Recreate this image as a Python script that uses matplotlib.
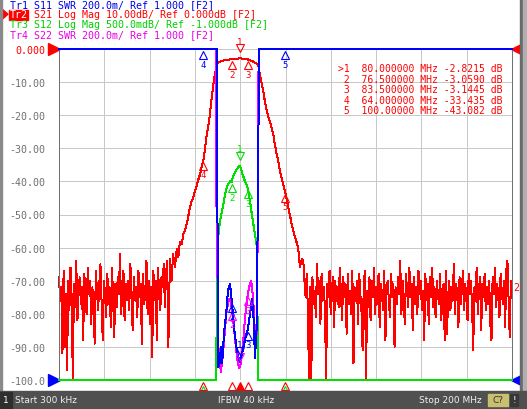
import numpy as np
import matplotlib
matplotlib.use("Agg")
import matplotlib.pyplot as plt
from matplotlib import transforms
from matplotlib.patches import Rectangle, Polygon

W, H = 527, 410
MONO = "DejaVu Sans Mono"

# sweep 300 kHz .. 200 MHz
f_start, f_stop = 0.3, 200.0

# Tr2 S21 (dB) - noise floor below the passband, evenly spaced sweep points
s21_low = [-69, -76, -72, -92, -67, -90, -74, -97, -70, -79,
           -66, -75, -100, -71, -78, -64, -82, -73, -69, -77,
           -72, -88, -68, -75, -80, -66, -74, -70, -83, -72,
           -78, -89, -67, -73, -79, -71, -65, -76, -88, -70,
           -74, -81, -68, -77, -72, -84, -66, -75, -87, -71,
           -78, -69, -74, -62, -80, -73, -67, -82, -71, -76,
           -70, -79, -65, -74, -85, -69, -76, -72, -81, -67,
           -75, -71, -89, -68, -77, -73, -64, -80, -70, -83,
           -72, -93, -67, -76, -70, -88, -66, -74, -79, -69,
           -72, -65, -78, -68, -64, -90]
# skirts and passband
s21_mid_f = [49.2, 49.9, 50.6, 51.4, 52.2, 52.9, 53.6, 54.4, 55.1, 55.8,
             56.6, 57.3, 58.0, 58.8, 59.5, 60.2, 61.0, 61.7, 62.5, 63.2,
             64.0, 64.6, 65.1, 65.8, 66.6, 67.3, 68.1, 68.9, 69.8, 70.5,
             71.2, 72.4, 73.5, 75.0, 76.5, 78.6, 80.0, 81.5, 83.5, 85.0,
             85.9, 87.0, 88.2, 88.9, 89.7, 90.4, 91.1, 91.9, 92.6, 93.3,
             94.1, 94.8, 95.5, 96.2, 97.0, 97.7, 98.5, 99.2, 100.0, 100.7,
             101.4, 102.2, 102.9, 103.6, 104.4, 105.1, 105.8, 106.5, 107.3]
s21_mid_db = [-63.5, -70, -62, -66, -60.5, -63, -58.3, -59, -55.9, -55,
              -52.9, -50.5, -47.8, -46, -44.7, -43, -41.4, -39.5, -37.8, -35.5,
              -33.435, -30.5, -27.5, -24.5, -21, -16.5, -12, -8, -5, -4.0,
              -3.8, -3.55, -3.4, -3.2, -3.059, -2.9, -2.8215, -2.9, -3.1445, -3.5,
              -3.8, -4.2, -5.0, -8, -10.5, -13, -16, -18.7, -20.5, -22,
              -24, -26, -29, -31.5, -34, -37, -39, -41, -43.082, -45.5,
              -48, -50.5, -53, -55, -57, -58.5, -60.5, -66, -63.5]
# noise floor above the passband
s21_high = [-64, -70, -75, -68, -79, -100, -72, -100, -69, -77,
            -73, -81, -65, -74, -70, -83, -68, -76, -72, -79,
            -100, -71, -75, -67, -80, -73, -69, -84, -70, -76,
            -72, -78, -66, -74, -82, -69, -75, -71, -86, -68,
            -77, -73, -80, -67, -95, -72, -76, -70, -83, -68,
            -74, -79, -91, -71, -67, -100, -73, -78, -69, -82,
            -70, -75, -66, -80, -72, -77, -68, -84, -71, -74,
            -79, -67, -88, -73, -70, -76, -81, -68, -75, -71,
            -90, -72, -77, -69, -74, -64, -80, -70, -76, -83,
            -68, -73, -78, -66, -75, -71, -85, -69, -77, -72,
            -80, -67, -74, -70, -79, -73, -88, -68, -76, -71,
            -83, -69, -75, -66, -78, -72, -81, -70, -74, -77,
            -68, -82, -73, -71, -88, -67, -86, -75, -70, -79,
            -72, -76, -65, -80, -71, -74, -84, -69, -77, -73,
            -67, -79, -71, -75, -82, -68, -74, -70, -78, -91,
            -72, -76, -66, -80, -73, -69, -85, -71, -75, -68,
            -79, -72, -77, -70, -83, -88, -69, -74, -66, -78,
            -71, -75, -81, -68, -73, -77, -70, -84, -67, -64,
            -76, -87, -70, -72]

# Tr3 S12 (dB), 500 mdB/div, ref -1 dB at top
s12_f = [0.3, 69.6, 70.0, 70.6, 71.2, 71.7, 72.6, 73.5, 74.4, 75.7,
         76.5, 77.0, 78.3, 79.0, 79.6, 80.0, 80.5, 81.0, 82.3, 83.0,
         83.6, 84.5, 85.4, 86.7, 87.6, 88.0, 200.0]
s12_db = [-70, -9, -4.05, -3.8, -3.62, -3.52, -3.37, -3.2, -3.07, -3.0,
          -3.01, -2.92, -2.84, -2.8, -2.77, -2.76, -2.8, -2.87, -3.0, -3.05,
          -3.11, -3.3, -3.52, -3.8, -4.0, -9, -70]

# Tr1 S11 SWR, 200m/div, ref 1.000 at bottom
s11_f = [0.3, 69.4, 69.9, 70.4, 71.0, 71.7, 72.2, 72.6, 73.0, 74.0,
         74.8, 75.7, 76.6, 77.5, 78.4, 79.3, 80.1, 81.0, 81.9, 82.8,
         83.6, 84.5, 85.4, 86.1, 86.7, 87.4, 88.0, 88.5, 200.0]
s11_swr = [9, 9, 4.0, 1.08, 1.09, 1.20, 1.10, 1.18, 1.28, 1.40,
           1.54, 1.58, 1.46, 1.31, 1.21, 1.14, 1.11, 1.16, 1.22, 1.27,
           1.31, 1.40, 1.49, 1.37, 1.13, 1.31, 2.09, 9, 9]

# Tr4 S22 SWR
s22_f = [0.3, 69.3, 69.8, 70.2, 70.6, 71.2, 71.7, 72.6, 73.5, 74.3,
         75.3, 76.1, 77.0, 77.9, 78.8, 79.7, 80.5, 81.4, 82.3, 83.2,
         84.1, 85.0, 85.9, 86.7, 87.3, 87.8, 88.3, 200.0]
s22_swr = [9, 9, 1.9, 1.6, 1.19, 1.10, 1.05, 1.16, 1.31, 1.43,
           1.49, 1.47, 1.37, 1.25, 1.13, 1.07, 1.10, 1.22, 1.37, 1.49,
           1.56, 1.60, 1.49, 1.28, 1.20, 1.75, 9, 9]

# markers (marker 1 active)
mk_names = ["1", "2", "3", "4", "5"]
mk_freq = [80.0, 76.5, 83.5, 64.0, 100.0]
mk_s21 = [-2.8215, -3.0590, -3.1445, -33.435, -43.082]

header = [("Tr1 S11 SWR 200.0m/ Ref 1.000 [F2]", "#0000e8"),
          ("S21 Log Mag 10.00dB/ Ref 0.000dB [F2]", "#ff0000"),
          ("Tr3 S12 Log Mag 500.0mdB/ Ref -1.000dB [F2]", "#00d000"),
          ("Tr4 S22 SWR 200.0m/ Ref 1.000 [F2]", "#e800e8")]
ytick_vals = list(range(0, -101, -10))

RED, GREEN, BLUE, MAG = "#ff0000", "#00e000", "#0000ff", "#ff00ff"
LW = 0.72   # one pixel


def fx(x):
    return x / W


def fy(y):
    return 1 - y / H


fig = plt.figure(figsize=(W / 100, H / 100), dpi=100)
fig.patch.set_facecolor("white")

ax = fig.add_axes([fx(59), 29 / H, 453 / W, 331 / H])
ax.set_xlim(f_start, f_stop)
ax.set_ylim(-100, 0)
ax.set_xticks(np.linspace(f_start, f_stop, 11))
ax.set_yticks(ytick_vals)
ax.grid(True, color="#c8c8c8", lw=LW)
ax.tick_params(length=0, labelbottom=False, pad=10)
ax.set_yticklabels(["0.000"] + ["%.2f" % v for v in ytick_vals[1:-1]] + ["-100.0"],
                   fontfamily=MONO, fontsize=7.2, color="#707070")
ax.get_yticklabels()[0].set_color(RED)
for s in ["top", "bottom"]:
    ax.spines[s].set_visible(False)
for s in ["left", "right"]:
    ax.spines[s].set_color("#707070")
    ax.spines[s].set_linewidth(LW)

f21 = np.concatenate([np.linspace(0.3, 48.5, len(s21_low)), s21_mid_f,
                      np.linspace(108.0, 200.0, len(s21_high))])
d21 = np.concatenate([s21_low, s21_mid_db, s21_high])
ax.plot(f21, np.clip(d21, -100, 0), color=RED, lw=LW, clip_on=False, antialiased=False)

axg = ax.twinx()
axg.set_ylim(-6, -1)
axg.axis("off")
axg.plot(s12_f, np.clip(s12_db, -6, -1), color=GREEN, lw=LW, clip_on=False, antialiased=False)

axs = ax.twinx()
axs.set_ylim(1, 3)
axs.axis("off")
axs.plot(s22_f, np.clip(s22_swr, 1, 3), color=MAG, lw=LW, clip_on=False, antialiased=False)
axs.plot(s11_f, np.clip(s11_swr, 1, 3), color=BLUE, lw=LW, clip_on=False, antialiased=False)


def draw_markers(a, ys, color, skip=(), no_label=()):
    for i, (nm, f, y) in enumerate(zip(mk_names, mk_freq, ys)):
        if nm in skip:
            continue
        if i == 0:
            mk, dy_m, dy_t = "v", 10, 17
        else:
            mk, dy_m, dy_t = "^", -6, -15
        tr = transforms.offset_copy(a.transData, fig=fig, y=dy_m, units="dots")
        a.plot([f], [y], marker=mk, ms=5.5, mfc="none", mec=color, mew=0.8,
               transform=tr, clip_on=False)
        if nm in no_label:
            continue
        a.text(f, y, nm, transform=transforms.offset_copy(a.transData, fig=fig, y=dy_t, units="dots"),
               ha="center", va="center", color=color, fontsize=6.5, fontfamily=MONO)


draw_markers(ax, mk_s21, RED)
draw_markers(axg, np.clip(np.interp(mk_freq, s12_f, s12_db), -6, -1), GREEN, skip=("4", "5"))
draw_markers(axs, np.clip(np.interp(mk_freq, s22_f, s22_swr), 1, 3), MAG, skip=("4", "5"),
             no_label=("1",))
draw_markers(axs, np.clip(np.interp(mk_freq, s11_f, s11_swr), 1, 3), BLUE)

# stimulus markers under the grid
bt = transforms.blended_transform_factory(ax.transData, ax.transAxes)
for i, f in enumerate(mk_freq):
    if mk_names[i] in ("4", "5"):
        ax.plot([f], [-0.028], marker="^", ms=4, mfc="none", mec=GREEN, mew=0.8,
                transform=bt, clip_on=False)
    ax.plot([f], [-0.017], marker="^", ms=6, mfc=RED if i == 0 else "none", mec=RED,
            mew=0.8, transform=bt, clip_on=False)

# reference position triangles
ax.plot([-0.011], [1.0], marker=">", ms=8, color=RED, transform=ax.transAxes, clip_on=False)
ax.plot([-0.011], [0.0], marker=">", ms=8, color=BLUE, transform=ax.transAxes, clip_on=False)
ax.plot([1.011], [1.0], marker="<", ms=8, color=RED, transform=ax.transAxes, clip_on=False)
ax.plot([1.011], [0.0], marker="<", ms=8, color=BLUE, transform=ax.transAxes, clip_on=False)
fig.text(fx(513), fy(288), "2", color=RED, fontsize=7.2, fontfamily=MONO, va="center")

# header
char_w = 0.602 * 7.2 * 100 / 72
for i, (txt, col) in enumerate(header):
    x0 = 10 + 4 * char_w if i == 1 else 10
    fig.text(fx(x0), fy(5.5 + 9.7 * i), txt, color=col, fontsize=7.2,
             fontfamily=MONO, va="center")
fig.add_artist(Rectangle((fx(9), fy(20.5)), 19 / W, 10 / H, transform=fig.transFigure,
                         color=RED, zorder=3))
fig.text(fx(10), fy(15.2), "Tr2", color="white", fontsize=7.2, fontfamily=MONO,
         va="center", zorder=4)
fig.add_artist(Polygon([[fx(2), fy(10)], [fx(8), fy(15.2)], [fx(2), fy(20.5)]],
                       closed=True, transform=fig.transFigure, color=RED))

# marker table
rows = []
for nm, f, v in zip(mk_names, mk_freq, mk_s21):
    lab = (">" + nm) if nm == "1" else (" " + nm)
    rows.append("%s  %s MHz %s dB" % (lab, ("%.6f" % f)[:9], ("%.4f" % v)[:7]))
fig.text(fx(338), fy(64), "\n".join(rows), color=RED, fontsize=7, fontfamily=MONO,
         va="top", linespacing=1.07)

# window frame and status bar
fig.add_artist(Rectangle((0, 0), 2 / W, 1, transform=fig.transFigure, color="#8a8a8a"))
fig.add_artist(Rectangle((fx(520), 0), 7 / W, 1, transform=fig.transFigure, color="#6a6a6a"))
fig.add_artist(Rectangle((fx(523), 0), 4 / W, 1, transform=fig.transFigure, color="#b0b0b0"))
fig.add_artist(Rectangle((0, 0), 1, 18 / H, transform=fig.transFigure, color="#505050"))
fig.add_artist(Rectangle((0, 0), 12 / W, 17 / H, transform=fig.transFigure, color="#2e2e2e"))
fig.add_artist(Rectangle((fx(488), fy(407)), 20 / W, 12 / H, transform=fig.transFigure,
                         color="#c8c070"))
fig.add_artist(Rectangle((fx(510), fy(407)), 8 / W, 12 / H, transform=fig.transFigure,
                         color="#383838"))
bar_y = fy(401)
fig.text(fx(6), bar_y, "1", color="white", fontsize=6.5, ha="center", va="center")
fig.text(fx(15), bar_y, "Start 300 kHz", color="#f0f0f0", fontsize=6.5, va="center")
fig.text(fx(246), bar_y, "IFBW 40 kHz", color="#f0f0f0", fontsize=6.5, ha="center", va="center")
fig.text(fx(482), bar_y, "Stop 200 MHz", color="#f0f0f0", fontsize=6.5, ha="right", va="center")
fig.text(fx(498), bar_y, "C?", color="#303030", fontsize=6.5, ha="center", va="center")
fig.text(fx(514), bar_y, "!", color="white", fontsize=6.5, ha="center", va="center")

fig.savefig("out.png", dpi=100)
